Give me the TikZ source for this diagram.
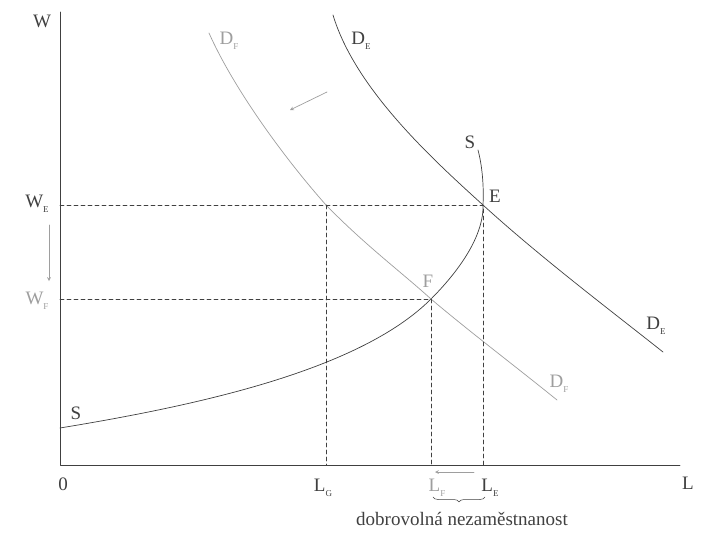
\documentclass[tikz,border=0pt]{standalone}
\usepackage{fontspec}
\setmainfont{Liberation Serif}
\usetikzlibrary{decorations.pathreplacing}
\definecolor{ink}{gray}{0.25}
\definecolor{pale}{gray}{0.62}
\newcommand{\idx}[1]{\raisebox{-0.55ex}{\fontsize{9}{9}\selectfont #1}}
\begin{document}
\begin{tikzpicture}[x=1pt,y=-1pt,line join=round,line cap=round,
		font=\fontsize{19}{19}\selectfont,>=stealth,
		ink/.style={draw=ink,line width=0.7pt},
		faded/.style={draw=pale,line width=0.7pt},
		guide/.style={draw=ink,line width=0.6pt,dash pattern=on 4pt off 3pt},
		lab/.style={text=ink,inner sep=0pt},
		lab faded/.style={text=pale,inner sep=0pt}]
	\useasboundingbox (0,0) rectangle (724,533);
	\path
	(60,465) coordinate (O)
	(60,12) coordinate (Wtop)
	(680,465) coordinate (Lend)
	(483,205) coordinate (E)
	(431,299) coordinate (F)
	(60,205) coordinate (WE)
	(60,299) coordinate (WF)
	(326,205) coordinate (G)
	(326,465) coordinate (LG)
	(431,465) coordinate (LF)
	(483,465) coordinate (LE)
	(327,92) coordinate (ShiftA) (290,110) coordinate (ShiftB)
	(49,225) coordinate (WdownA) (49,281) coordinate (WdownB)
	(474,472) coordinate (LleftA) (435,472) coordinate (LleftB)
	(433,497) coordinate (BraceL) (485,497) coordinate (BraceR)
	;
	% axes
	\draw[ink] (Wtop)--(O)--(Lend);
	% labour supply
	\draw[ink] (60,428) .. controls (200,405) and (360,370) .. (F)
		.. controls (452,278) and (484,240) .. (E)
		.. controls (484,185) and (482,165) .. (478,150);
	% demand curves
	\draw[ink] (333,15) .. controls (355,88) and (430,157) .. (E)
		.. controls (540,257) and (610,310) .. (663,352);
	\draw[faded] (209,33) .. controls (232,85) and (280,153) .. (G)
		.. controls (365,245) and (400,271) .. (F)
		.. controls (470,332) and (515,366) .. (557,400);
	% dashed guides
	\draw[guide] (WE)--(E)--(LE);
	\draw[guide] (WF)--(F)--(LF);
	\draw[guide] (G)--(LG);
	% shifts
	\draw[faded,->] (ShiftA)--(ShiftB);
	\draw[faded,->] (WdownA)--(WdownB);
	\draw[faded,->] (LleftA)--(LleftB);
	\draw[ink,line width=0.5pt,decorate,decoration={brace,mirror,amplitude=5pt}] (BraceL)--(BraceR);
	% labels
	\node[lab] (labW) at (42,21) {W};
	\node[lab] (labO) at (63,484) {0};
	\node[lab] (labL) at (688,483) {L};
	\node[lab] (labWE) at (37,204) {W\idx{E}};
	\node[lab faded] (labWF) at (37,301) {W\idx{F}};
	\node[lab] (labLG) at (323,488) {L\idx{G}};
	\node[lab faded] (labLF) at (437,488) {L\idx{F}};
	\node[lab] (labLE) at (490,488) {L\idx{E}};
	\node[lab] (labSlow) at (76,413) {S};
	\node[lab] (labShigh) at (470,142) {S};
	\node[lab] (labE) at (495,196) {E};
	\node[lab faded] (labF) at (428,281) {F};
	\node[lab faded] (labDFtop) at (229,41) {D\idx{F}};
	\node[lab] (labDEtop) at (361,41) {D\idx{E}};
	\node[lab] (labDEbot) at (656,326) {D\idx{E}};
	\node[lab faded] (labDFbot) at (559,384) {D\idx{F}};
	\node[lab] (labGap) at (462,519) {dobrovolná nezaměstnanost};
\end{tikzpicture}
\end{document}
